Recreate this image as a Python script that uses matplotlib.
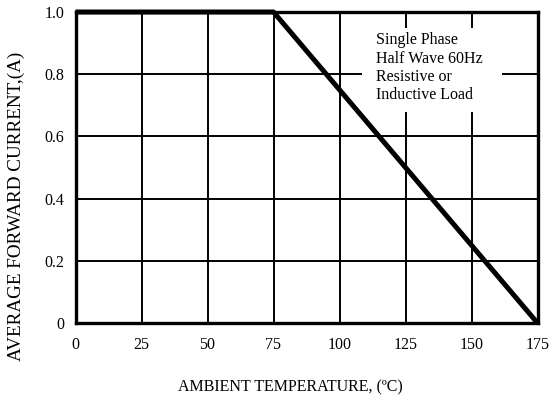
import matplotlib
matplotlib.use("Agg")
import matplotlib.pyplot as plt
from matplotlib.patches import Rectangle

plt.rcParams["font.family"] = ["Liberation Serif", "DejaVu Serif"]

# derating curve
temp = [0, 75, 175]
current = [1.0, 1.0, 0.0]

x_ticks = [0, 25, 50, 75, 100, 125, 150, 175]
y_ticks = [0, 0.2, 0.4, 0.6, 0.8, 1.0]
y_labels = ["0", "0.2", "0.4", "0.6", "0.8", "1.0"]

note = "Single Phase\nHalf Wave 60Hz\nResistive or\nInductive Load"

fig = plt.figure(figsize=(5.52, 4.0), dpi=100)
ax = fig.add_axes([75.5 / 552, 1 - 323 / 400, 462 / 552, 311 / 400])

ax.set_xlim(0, 175)
ax.set_ylim(0, 1.0)
ax.set_xticks(x_ticks)
ax.set_yticks(y_ticks)
ax.set_yticklabels(y_labels)
ax.tick_params(length=0, labelsize=11.5)
ax.tick_params(axis="x", pad=10)
ax.tick_params(axis="y", pad=8)

ax.grid(True, color="black", linewidth=1.4)
ax.set_axisbelow(True)
for s in ax.spines.values():
    s.set_linewidth(2.4)

# white patch behind the note, hides the grid
ax.add_patch(Rectangle((108.6, 0.678), 53.1, 0.27, facecolor="white",
                       edgecolor="none", zorder=1.5))
ax.text(113.8, 0.935, note, fontsize=11.5, va="top", ha="left",
        linespacing=1.2, zorder=3)

ax.plot(temp, current, color="black", linewidth=3.6, zorder=4,
        solid_capstyle="butt", clip_on=False)

# axis titles placed where the reference has them
fig.text(290.5 / 552, 1 - 387 / 400, "AMBIENT TEMPERATURE, (ºC)",
         fontsize=11.5, ha="center", va="center")
fig.text(16 / 552, 1 - 206 / 400, "AVERAGE FORWARD CURRENT,(A)",
         fontsize=13.8, rotation=90, ha="center", va="center")

fig.savefig("out.png", dpi=100)
